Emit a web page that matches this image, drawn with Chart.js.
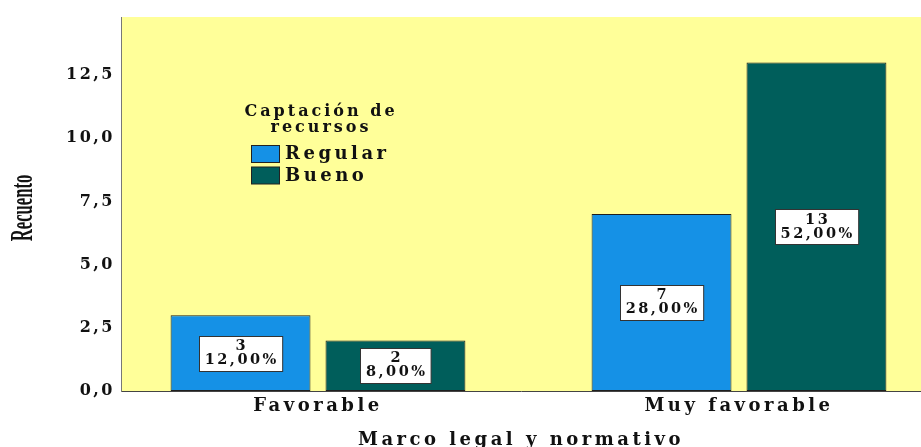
<!DOCTYPE html>
<html>
<head>
<meta charset="utf-8">
<script src="https://cdn.jsdelivr.net/npm/chart.js@4/dist/chart.umd.min.js"></script>
<style>
html,body{margin:0;padding:0;background:#ffffff;}
canvas{display:block;}
</style>
</head>
<body>
<canvas id="c" width="921" height="447"></canvas>
<script>
// ---- data ----
const categories = ['Favorable', 'Muy favorable'];
const seriesNames = ['Regular', 'Bueno'];
const regular = [3, 7];
const bueno = [2, 13];
const total = 25;
const yTicks = [0, 2.5, 5, 7.5, 10, 12.5];
const legendTitle = ['Captación de', 'recursos'];
const xTitle = 'Marco legal y normativo';
const yTitle = 'Recuento';

// ---- styles ----
const SERIF = '"DejaVu Serif", serif';
const COLORS = ['#1591E6', '#005E5B'];
const PLOT_BG = '#FFFF99';
const TEXT = '#111111';

function toPoints(arr) { return arr.map((v, i) => ({ x: i + 1, y: v })); }

function patch(scale, m, sp) {
  if (scale['_p_' + m]) return;
  const orig = scale[m];
  scale[m] = function (...a) {
    const c = this.ctx; const prev = c.letterSpacing;
    c.letterSpacing = sp; orig.apply(this, a); c.letterSpacing = prev;
  };
  scale['_p_' + m] = true;
}

const axisStyle = {
  id: 'axisStyle',
  beforeDraw(chart) {
    const { ctx, chartArea: a } = chart;
    ctx.save();
    ctx.fillStyle = PLOT_BG;
    ctx.fillRect(a.left, a.top, a.right - a.left, a.bottom - a.top);
    ctx.restore();
    const xs = chart.scales.x, ys = chart.scales.y;
    patch(xs, 'drawLabels', '3.5px');
    patch(xs, 'drawTitle', '3.5px');
    patch(ys, 'drawLabels', '2.5px');
    if (!ys._titlePatched) {
      const orig = ys.drawTitle;
      ys.drawTitle = function () {
        const c = this.ctx;
        c.save();
        c.letterSpacing = '0px';
        const cy = (this.top + this.bottom) / 2;
        c.translate(0, cy + 4);
        c.scale(1, 0.52);
        c.translate(0, -cy);
        orig.call(this);
        c.restore();
      };
      ys._titlePatched = true;
    }
  }
};

const barLabels = {
  id: 'barLabels',
  afterDatasetsDraw(chart) {
    const ctx = chart.ctx;
    ctx.save();
    ctx.font = 'bold 14.5px ' + SERIF;
    ctx.letterSpacing = '2.5px';
    ctx.textAlign = 'center';
    ctx.textBaseline = 'middle';
    chart.data.datasets.forEach((ds, di) => {
      const meta = chart.getDatasetMeta(di);
      meta.data.forEach((bar, i) => {
        const v = ds.data[i].y;
        const lines = [String(v), (v / total * 100).toFixed(2).replace('.', ',') + '%'];
        const w = Math.max(...lines.map(t => ctx.measureText(t).width)) + 9;
        const h = 35;
        const cx = bar.x, cy = (bar.y + bar.base) / 2;
        const x0 = Math.round(cx - w / 2) + 0.5, y0 = Math.round(cy - h / 2) + 0.5;
        ctx.fillStyle = '#ffffff';
        ctx.fillRect(x0, y0, w, h);
        ctx.strokeStyle = '#333333';
        ctx.lineWidth = 1;
        ctx.strokeRect(x0, y0, w, h);
        ctx.fillStyle = TEXT;
        ctx.fillText(lines[0], cx + 1.25, cy - 7);
        ctx.fillText(lines[1], cx + 1.25, cy + 7);
      });
    });
    ctx.restore();
  }
};

const innerLegend = {
  id: 'innerLegend',
  afterDraw(chart) {
    const ctx = chart.ctx;
    ctx.save();
    ctx.fillStyle = TEXT;
    ctx.textBaseline = 'middle';
    ctx.textAlign = 'center';
    ctx.font = 'bold 16px ' + SERIF;
    ctx.letterSpacing = '3px';
    ctx.fillText(legendTitle[0], 321, 112);
    ctx.fillText(legendTitle[1], 321, 128);
    ctx.textAlign = 'left';
    ctx.font = 'bold 18px ' + SERIF;
    ctx.letterSpacing = '3.5px';
    chart.data.datasets.forEach((ds, i) => {
      const y = 145 + i * 21.5;
      ctx.fillStyle = ds.backgroundColor;
      ctx.fillRect(251.5, y + 0.5, 28, 17);
      ctx.strokeStyle = '#222222';
      ctx.lineWidth = 1;
      ctx.strokeRect(251.5, y + 0.5, 28, 17);
      ctx.fillStyle = TEXT;
      ctx.fillText(ds.label, 285, y + 9.5);
    });
    ctx.restore();
  }
};

new Chart(document.getElementById('c'), {
  type: 'bar',
  data: {
    datasets: [
      { label: seriesNames[0], data: toPoints(regular), backgroundColor: COLORS[0] },
      { label: seriesNames[1], data: toPoints(bueno), backgroundColor: COLORS[1] }
    ]
  },
  options: {
    responsive: false,
    animation: false,
    devicePixelRatio: 1,
    layout: { padding: { top: 17, left: 0, right: 0, bottom: 0 } },
    datasets: {
      bar: {
        borderWidth: 1,
        borderColor: '#1e1e1e',
        borderSkipped: false,
        categoryPercentage: 0.736,
        barPercentage: 0.903
      }
    },
    plugins: { legend: { display: false }, tooltip: { enabled: false } },
    scales: {
      x: {
        type: 'linear',
        offset: false,
        bounds: 'data',
        min: 0.53207,
        max: 2.43231,
        grid: { display: false, drawTicks: false, offset: false },
        border: { display: true, color: '#444444', width: 1 },
        afterBuildTicks(scale) { scale.ticks = categories.map((c, i) => ({ value: i + 1 })); },
        afterFit(scale) { scale.height = 56; },
        ticks: {
          autoSkip: false, maxRotation: 0, padding: 5, color: TEXT,
          font: { family: SERIF, size: 18, weight: 'bold' },
          callback: (v) => categories[Math.round(v) - 1] || ''
        },
        title: {
          display: true, text: xTitle, color: TEXT,
          font: { family: SERIF, size: 18, weight: 'bold' },
          padding: { top: 0, bottom: -4 }
        }
      },
      y: {
        min: 0,
        max: 14.8,
        grid: { display: false, drawTicks: false },
        border: { display: true, color: '#777777', width: 1 },
        afterBuildTicks(scale) { scale.ticks = yTicks.map(v => ({ value: v })); },
        afterFit(scale) { scale.width = 121; },
        ticks: {
          padding: 6, color: TEXT,
          font: { family: SERIF, size: 16, weight: 'bold' },
          callback: (v) => Number(v).toFixed(1).replace('.', ',')
        },
        title: {
          display: true, text: yTitle, color: TEXT,
          font: { family: '"Liberation Serif", serif', size: 32, weight: 'bold' },
          padding: { top: 5, bottom: 0 }
        }
      }
    }
  },
  plugins: [axisStyle, barLabels, innerLegend]
});
</script>
</body>
</html>
